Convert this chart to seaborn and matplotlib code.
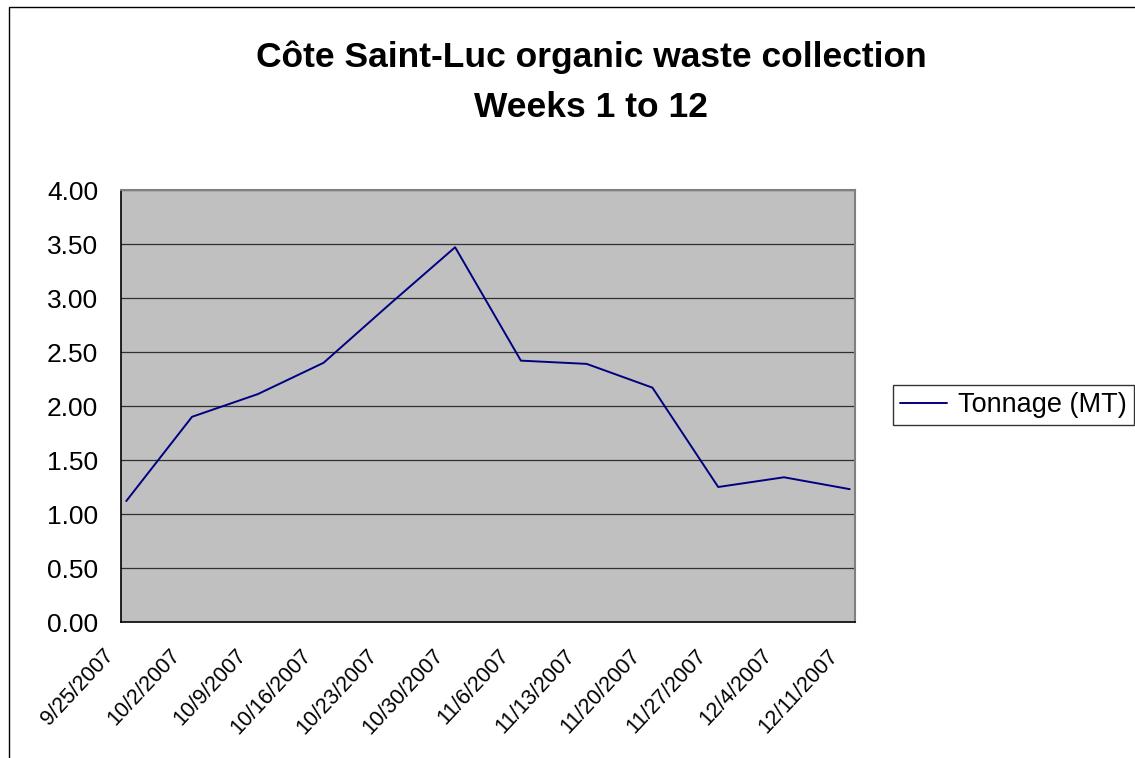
import matplotlib
matplotlib.use("Agg")
import matplotlib.pyplot as plt
import matplotlib.transforms as mtransforms
import numpy as np
import pandas as pd
import seaborn as sns
from matplotlib.patches import Rectangle

# data
weeks = ["9/25/2007", "10/2/2007", "10/9/2007", "10/16/2007", "10/23/2007",
         "10/30/2007", "11/6/2007", "11/13/2007", "11/20/2007", "11/27/2007",
         "12/4/2007", "12/11/2007"]
tonnage = [1.12, 1.90, 2.11, 2.40, 2.94, 3.47, 2.42, 2.39, 2.17, 1.25, 1.34, 1.23]
series_name = "Tonnage (MT)"
title_lines = ["Côte Saint-Luc organic waste collection", "Weeks 1 to 12"]

sns.set_style("white")
plt.rcParams['font.family'] = ['Liberation Sans', 'DejaVu Sans']
plt.rcParams['text.color'] = 'black'
plt.rcParams['xtick.color'] = 'black'
plt.rcParams['ytick.color'] = 'black'

df = pd.DataFrame({"pos": np.arange(len(weeks)), "value": tonnage, "series": series_name})

W, H = 1135, 758
fig = plt.figure(figsize=(W / 100, H / 100), dpi=100)
ax = fig.add_axes([121 / W, 1 - 622 / H, 734 / W, 432 / H])
ax.set_facecolor("#C0C0C0")

# horizontal gridlines
for v in np.arange(0.5, 4.01, 0.5):
    ax.axhline(v, color="#303030", lw=0.9, zorder=1)

sns.lineplot(data=df, x="pos", y="value", hue="series", palette=["#000080"],
             lw=1.4, ax=ax, zorder=3)

ax.set_xlim(-0.08, len(weeks) - 1 + 0.08)
ax.set_ylim(0, 4)
yt = np.arange(0, 4.01, 0.5)
ax.set_yticks(yt)
ax.set_yticklabels([f"{v:.2f}" for v in yt], fontsize=19)
ax.set_xticks(np.arange(len(weeks)))
ax.set_xticklabels(weeks, rotation=47, ha="right", rotation_mode="anchor", fontsize=15.5)
ax.tick_params(axis="y", direction="out", length=6.5, width=1, pad=10)
ax.tick_params(axis="x", direction="out", length=5, width=1, pad=8)
# nudge the slanted labels so they end just left of their tick, as in the original
shift = mtransforms.ScaledTranslation(-23 / 100, -5 / 100, fig.dpi_scale_trans)
for lbl in ax.get_xticklabels():
    lbl.set_transform(lbl.get_transform() + shift)
ax.set_xlabel("")
ax.set_ylabel("")

for s in ["left", "bottom"]:
    ax.spines[s].set_color("black")
    ax.spines[s].set_linewidth(1.2)
for s in ["top", "right"]:
    ax.spines[s].set_color("#808080")
    ax.spines[s].set_linewidth(1.5)

leg = ax.legend(loc="center left", bbox_to_anchor=(893 / W, 1 - 405 / H),
                bbox_transform=fig.transFigure, frameon=True, fancybox=False,
                fontsize=19.5, handlelength=1.75, handletextpad=0.4,
                borderpad=0.25, borderaxespad=0)
leg.get_frame().set_edgecolor("black")
leg.get_frame().set_linewidth(1.0)

fig.text(591 / W, 1 - 67 / H, title_lines[0], ha="center", va="baseline",
         fontsize=25.5, fontweight="bold")
fig.text(591 / W, 1 - 117 / H, title_lines[1], ha="center", va="baseline",
         fontsize=25.5, fontweight="bold")

# outer chart-area border (cropped at right and bottom in the reference)
fig.patches.append(Rectangle((9 / W, -0.1), 1.2, 1 - 7 / H + 0.1,
                             transform=fig.transFigure, fill=False,
                             edgecolor="black", lw=1.0))

fig.savefig("out.png", dpi=100)
